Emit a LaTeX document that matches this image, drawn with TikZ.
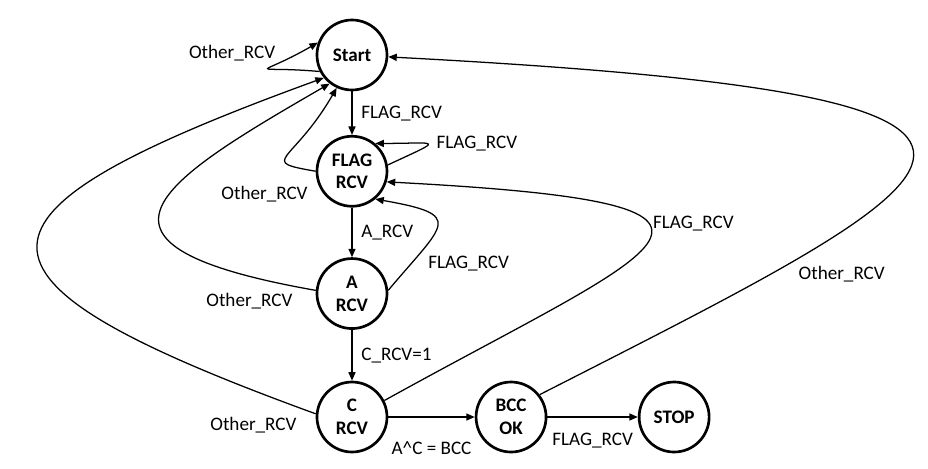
\documentclass[tikz,border=0pt]{standalone}
\usepackage{fontspec}
\setmainfont{Carlito}
\usetikzlibrary{positioning,arrows.meta}

\begin{document}
\begin{tikzpicture}[
  node distance=1.24cm and 2.16cm,
  st/.style={draw, circle, line width=1.9pt, minimum size=1.75cm, inner sep=0pt,
             align=center, font=\fontsize{13.6}{16.3}\selectfont\bfseries},
  lbl/.style={font=\fontsize{13.6}{16.3}\selectfont},
  arr/.style={-{Triangle[length=6pt,width=5pt]}, line width=0.9pt}
]
\useasboundingbox (-8.8,1.375) rectangle (14.4,-10.35);

% States
\node[st] (start) at (0,0) {Start};
\node[st, below=1.09cm of start] (flagrcv) {FLAG\\RCV};
\node[st, below=of flagrcv] (arcv) {A\\RCV};
\node[st, below=1.27cm of arcv] (crcv) {C\\RCV};
\node[st, right=of crcv] (bccok) {BCC\\OK};
\node[st, right=2.26cm of bccok] (stop) {STOP};

% Forward transitions
\draw[arr] (start) -- node[lbl, right=1mm] {FLAG\_RCV} (flagrcv);
\draw[arr] (flagrcv) -- node[lbl, right=1mm] {A\_RCV} (arcv);
\draw[arr] (arcv) -- node[lbl, right=1mm] {C\_RCV=1} (crcv);
\draw[arr] (crcv) -- node[lbl, below=4.7mm] {A\textasciicircum C = BCC} (bccok);
\draw[arr] (bccok) -- node[lbl, below=2.8mm] {FLAG\_RCV} (stop);

% Self loops
\draw[arr] (start.207) .. controls +(175:1.8) and +(210:1.8) .. (start.160)
  node[lbl, pos=0.5, anchor=south east, xshift=3mm, yshift=0.4mm] {Other\_RCV};
\draw[arr] (flagrcv.10) .. controls +(25:1.6) and +(0:1.6) .. (flagrcv.50)
  node[lbl, pos=0.5, anchor=west, xshift=1mm] {FLAG\_RCV};

% Back to Start
\draw[arr] (flagrcv.180) .. controls +(170:1.5) and +(240:2.2) .. (start.245)
  node[lbl, pos=0, anchor=north east, xshift=-0.7mm, yshift=-2.3mm] {Other\_RCV};
\draw[arr] (arcv.175) .. controls +(170:6.5) and +(210:5) .. (start.232)
  node[lbl, pos=0, anchor=north east, xshift=-4.5mm, yshift=0.6mm] {Other\_RCV};
\draw[arr] (crcv.175) .. controls +(160:10) and +(200:10) .. (start.219)
  node[lbl, pos=0, anchor=north east, xshift=-3.5mm, yshift=0.4mm] {Other\_RCV};
\draw[arr] (bccok.38) .. controls +(27:12.5) and +(357:18.8) .. (start.357)
  node[lbl, pos=0.23, anchor=north west] {Other\_RCV};

% Back to FLAG RCV
\draw[arr] (arcv.5) .. controls +(50:2.2) and +(350:2.3) .. (flagrcv.310)
  node[lbl, pos=0.15, anchor=west, xshift=3mm] {FLAG\_RCV};
\draw[arr] (crcv.27) .. controls +(29:8) and +(357:10.5) .. (flagrcv.343)
  node[lbl, pos=0.6, anchor=west] {FLAG\_RCV};
\end{tikzpicture}
\end{document}
